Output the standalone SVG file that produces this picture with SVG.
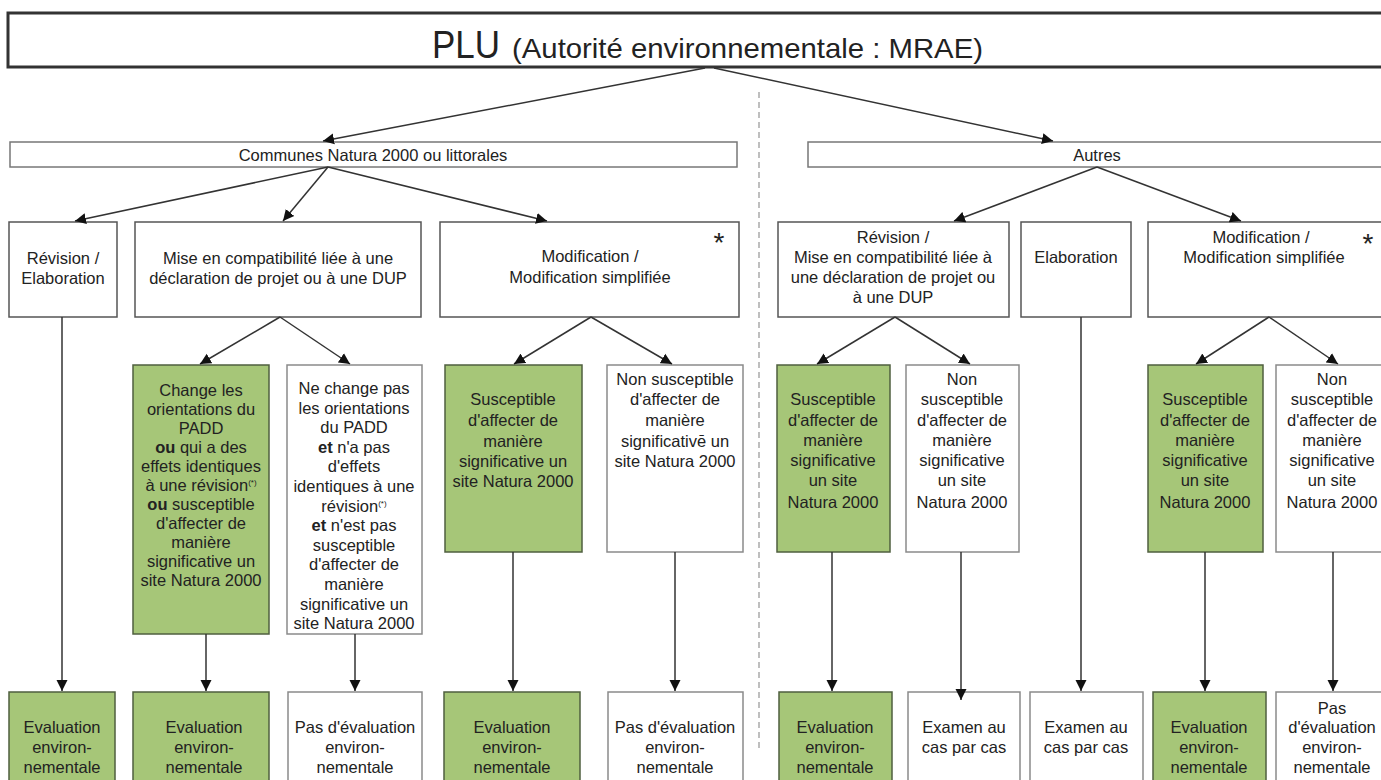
<svg xmlns="http://www.w3.org/2000/svg" width="1381" height="780" viewBox="0 0 1381 780">
<style>
text{font-family:"Liberation Sans",Arial,sans-serif;fill:#222;}
.t{font-size:16.5px;text-anchor:middle;}
.box{fill:#fff;stroke:#555;stroke-width:1.5;}
.lbox{fill:#fff;stroke:#777;stroke-width:1.5;}
.g{fill:#a6c678;stroke:#4f5f3f;stroke-width:1.5;}
.w{fill:#fff;stroke:#8a8a8a;stroke-width:1.5;}
.c{stroke:#333;stroke-width:1.5;fill:none;marker-end:url(#ah);}
.b{font-weight:bold;}
.sup{font-size:8px;}
</style>
<defs>
<marker id="ah" markerUnits="userSpaceOnUse" markerWidth="12" markerHeight="12" viewBox="0 0 12 12" refX="11" refY="6" orient="auto">
<path d="M0,0.5 L11,6 L0,11.5 z" fill="#111"/>
</marker>
</defs>
<rect width="1381" height="780" fill="#fff"/>
<line x1="759" y1="92" x2="759" y2="748" stroke="#aaa" stroke-width="1.5" stroke-dasharray="6,4"/>

<g id="title">
<rect x="8" y="13" width="1390" height="54" fill="#fff" stroke="#333" stroke-width="3"/>
<text x="432" y="58" font-size="38" textLength="68" lengthAdjust="spacingAndGlyphs">PLU</text>
<text x="512" y="58" font-size="28" textLength="471" lengthAdjust="spacingAndGlyphs">(Autorité environnementale : MRAE)</text>
</g>

<g id="communes">
<rect class="lbox" x="10" y="142" width="727" height="25"/>
<text class="t" x="373" y="161">Communes Natura 2000 ou littorales</text>
</g>
<g id="autres">
<rect class="lbox" x="808" y="142" width="590" height="25"/>
<text class="t" x="1097" y="161">Autres</text>
</g>

<g id="revElab">
<rect class="box" x="9" y="222" width="108" height="95"/>
<text class="t" x="63" y="264">Révision /</text>
<text class="t" x="63" y="284">Elaboration</text>
</g>
<g id="mise">
<rect class="box" x="135" y="222" width="286" height="95"/>
<text class="t" x="278" y="264">Mise en compatibilité liée à une</text>
<text class="t" x="278" y="284">déclaration de projet ou à une DUP</text>
</g>
<g id="modifL">
<rect class="box" x="440" y="222" width="299" height="95"/>
<text x="719" y="252" font-size="28" text-anchor="middle">*</text>
<text class="t" x="590" y="262">Modification /</text>
<text class="t" x="590" y="283">Modification simplifiée</text>
</g>
<g id="revR">
<rect class="box" x="778" y="222" width="231" height="95"/>
<text class="t" x="893" y="243">Révision /</text>
<text class="t" x="893" y="263">Mise en compatibilité liée à</text>
<text class="t" x="893" y="283">une déclaration de projet ou</text>
<text class="t" x="893" y="303">à une DUP</text>
</g>
<g id="elabR">
<rect class="box" x="1021" y="222" width="110" height="95"/>
<text class="t" x="1076" y="263">Elaboration</text>
</g>
<g id="modifR">
<rect class="box" x="1148" y="222" width="250" height="95"/>
<text x="1368" y="253" font-size="28" text-anchor="middle">*</text>
<text class="t" x="1261" y="243">Modification /</text>
<text class="t" x="1264" y="263">Modification simplifiée</text>
</g>

<g id="change">
<rect class="g" x="133" y="365" width="136" height="269"/>
<text class="t" x="201" y="396">Change les</text>
<text class="t" x="201" y="415">orientations du</text>
<text class="t" x="201" y="434">PADD</text>
<text class="t" x="201" y="453"><tspan class="b">ou</tspan> qui a des</text>
<text class="t" x="201" y="472">effets identiques</text>
<text class="t" x="201" y="491">à une révision<tspan class="sup" dy="-6">(*)</tspan></text>
<text class="t" x="201" y="510"><tspan class="b">ou</tspan> susceptible</text>
<text class="t" x="201" y="529">d'affecter de</text>
<text class="t" x="201" y="548">manière</text>
<text class="t" x="201" y="567">significative un</text>
<text class="t" x="201" y="586">site Natura 2000</text>
</g>
<g id="nechange">
<rect class="w" x="287" y="365" width="135" height="269"/>
<text class="t" x="354" y="394">Ne change pas</text>
<text class="t" x="354" y="413.6">les orientations</text>
<text class="t" x="354" y="433.2">du PADD</text>
<text class="t" x="354" y="452.8"><tspan class="b">et</tspan>  n'a pas</text>
<text class="t" x="354" y="472.4">d'effets</text>
<text class="t" x="354" y="492">identiques à une</text>
<text class="t" x="354" y="511.6">révision<tspan class="sup" dy="-6">(*)</tspan></text>
<text class="t" x="354" y="531.2"><tspan class="b">et</tspan> n'est pas</text>
<text class="t" x="354" y="550.8">susceptible</text>
<text class="t" x="354" y="570.4">d'affecter de</text>
<text class="t" x="354" y="590">manière</text>
<text class="t" x="354" y="609.6">significative un</text>
<text class="t" x="354" y="629.2">site Natura 2000</text>
</g>
<g id="suscL">
<rect class="g" x="445" y="365" width="137" height="187"/>
<text class="t" x="513" y="405">Susceptible</text>
<text class="t" x="513" y="426">d'affecter de</text>
<text class="t" x="513" y="447">manière</text>
<text class="t" x="513" y="467">significative un</text>
<text class="t" x="513" y="487">site Natura 2000</text>
</g>
<g id="nonL">
<rect class="w" x="607" y="365" width="136" height="187"/>
<text class="t" x="675" y="385">Non susceptible</text>
<text class="t" x="675" y="405">d'affecter de</text>
<text class="t" x="675" y="426">manière</text>
<text class="t" x="675" y="447">significativē un</text>
<text class="t" x="675" y="467">site Natura 2000</text>
</g>
<g id="suscR1">
<rect class="g" x="777" y="365" width="113" height="187"/>
<text class="t" x="833" y="405">Susceptible</text>
<text class="t" x="833" y="426">d'affecter de</text>
<text class="t" x="833" y="446">manière</text>
<text class="t" x="833" y="466">significative</text>
<text class="t" x="833" y="486">un site</text>
<text class="t" x="833" y="508">Natura 2000</text>
</g>
<g id="nonR1">
<rect class="w" x="906" y="365" width="113" height="187"/>
<text class="t" x="962" y="385">Non</text>
<text class="t" x="962" y="405">susceptible</text>
<text class="t" x="962" y="426">d'affecter de</text>
<text class="t" x="962" y="446">manière</text>
<text class="t" x="962" y="466">significative</text>
<text class="t" x="962" y="486">un site</text>
<text class="t" x="962" y="508">Natura 2000</text>
</g>
<g id="suscR2">
<rect class="g" x="1148" y="365" width="115" height="187"/>
<text class="t" x="1205" y="405">Susceptible</text>
<text class="t" x="1205" y="426">d'affecter de</text>
<text class="t" x="1205" y="446">manière</text>
<text class="t" x="1205" y="466">significative</text>
<text class="t" x="1205" y="486">un site</text>
<text class="t" x="1205" y="508">Natura 2000</text>
</g>
<g id="nonR2">
<rect class="w" x="1276" y="365" width="120" height="187"/>
<text class="t" x="1332" y="385">Non</text>
<text class="t" x="1332" y="405">susceptible</text>
<text class="t" x="1332" y="426">d'affecter de</text>
<text class="t" x="1332" y="446">manière</text>
<text class="t" x="1332" y="466">significative</text>
<text class="t" x="1332" y="486">un site</text>
<text class="t" x="1332" y="508">Natura 2000</text>
</g>

<g id="b1">
<rect class="g" x="9" y="692" width="106" height="100"/>
<text class="t" x="62" y="733">Evaluation</text>
<text class="t" x="62" y="753">environ-</text>
<text class="t" x="62" y="773">nementale</text>
</g>
<g id="b2">
<rect class="g" x="133" y="692" width="136" height="100"/>
<text class="t" x="204" y="733">Evaluation</text>
<text class="t" x="204" y="753">environ-</text>
<text class="t" x="204" y="773">nementale</text>
</g>
<g id="b3">
<rect class="w" x="288" y="692" width="134" height="100"/>
<text class="t" x="355" y="733">Pas d'évaluation</text>
<text class="t" x="355" y="753">environ-</text>
<text class="t" x="355" y="773">nementale</text>
</g>
<g id="b4">
<rect class="g" x="444" y="692" width="136" height="100"/>
<text class="t" x="512" y="733">Evaluation</text>
<text class="t" x="512" y="753">environ-</text>
<text class="t" x="512" y="773">nementale</text>
</g>
<g id="b5">
<rect class="w" x="608" y="692" width="135" height="100"/>
<text class="t" x="675" y="733">Pas d'évaluation</text>
<text class="t" x="675" y="753">environ-</text>
<text class="t" x="675" y="773">nementale</text>
</g>
<g id="b6">
<rect class="g" x="779" y="692" width="113" height="100"/>
<text class="t" x="835" y="733">Evaluation</text>
<text class="t" x="835" y="753">environ-</text>
<text class="t" x="835" y="773">nementale</text>
</g>
<g id="b7">
<rect class="w" x="908" y="692" width="112" height="100"/>
<text class="t" x="964" y="733">Examen au</text>
<text class="t" x="964" y="753">cas par cas</text>
</g>
<g id="b8">
<rect class="w" x="1030" y="692" width="113" height="100"/>
<text class="t" x="1086" y="733">Examen au</text>
<text class="t" x="1086" y="753">cas par cas</text>
</g>
<g id="b9">
<rect class="g" x="1153" y="692" width="113" height="100"/>
<text class="t" x="1209" y="733">Evaluation</text>
<text class="t" x="1209" y="753">environ-</text>
<text class="t" x="1209" y="773">nementale</text>
</g>
<g id="b10">
<rect class="w" x="1276" y="692" width="120" height="100"/>
<text class="t" x="1332" y="714">Pas</text>
<text class="t" x="1332" y="733">d'évaluation</text>
<text class="t" x="1332" y="753">environ-</text>
<text class="t" x="1332" y="773">nementale</text>
</g>

<g id="connectors">
<line class="c" x1="705" y1="68" x2="323" y2="141"/>
<line class="c" x1="714" y1="68" x2="1053" y2="141"/>
<line class="c" x1="328" y1="167" x2="75" y2="221"/>
<line class="c" x1="328" y1="167" x2="283" y2="221"/>
<line class="c" x1="328" y1="167" x2="547" y2="221"/>
<line class="c" x1="1097" y1="167" x2="954" y2="221"/>
<line class="c" x1="1097" y1="167" x2="1241" y2="221"/>
<line class="c" x1="280" y1="317" x2="200" y2="364"/>
<line class="c" x1="280" y1="317" x2="350" y2="364"/>
<line class="c" x1="591" y1="317" x2="514" y2="364"/>
<line class="c" x1="591" y1="317" x2="672" y2="364"/>
<line class="c" x1="895" y1="317" x2="817" y2="364"/>
<line class="c" x1="895" y1="317" x2="970" y2="364"/>
<line class="c" x1="1269" y1="317" x2="1196" y2="364"/>
<line class="c" x1="1269" y1="317" x2="1338" y2="364"/>
<line class="c" x1="62" y1="317" x2="62" y2="691"/>
<line class="c" x1="206" y1="634" x2="206" y2="691"/>
<line class="c" x1="355" y1="634" x2="355" y2="691"/>
<line class="c" x1="513" y1="552" x2="513" y2="691"/>
<line class="c" x1="675" y1="552" x2="675" y2="691"/>
<line class="c" x1="832" y1="552" x2="832" y2="691"/>
<line class="c" x1="961" y1="552" x2="961" y2="700"/>
<line class="c" x1="1081" y1="317" x2="1081" y2="691"/>
<line class="c" x1="1205" y1="552" x2="1205" y2="691"/>
<line class="c" x1="1333" y1="552" x2="1333" y2="691"/>
</g>
</svg>
